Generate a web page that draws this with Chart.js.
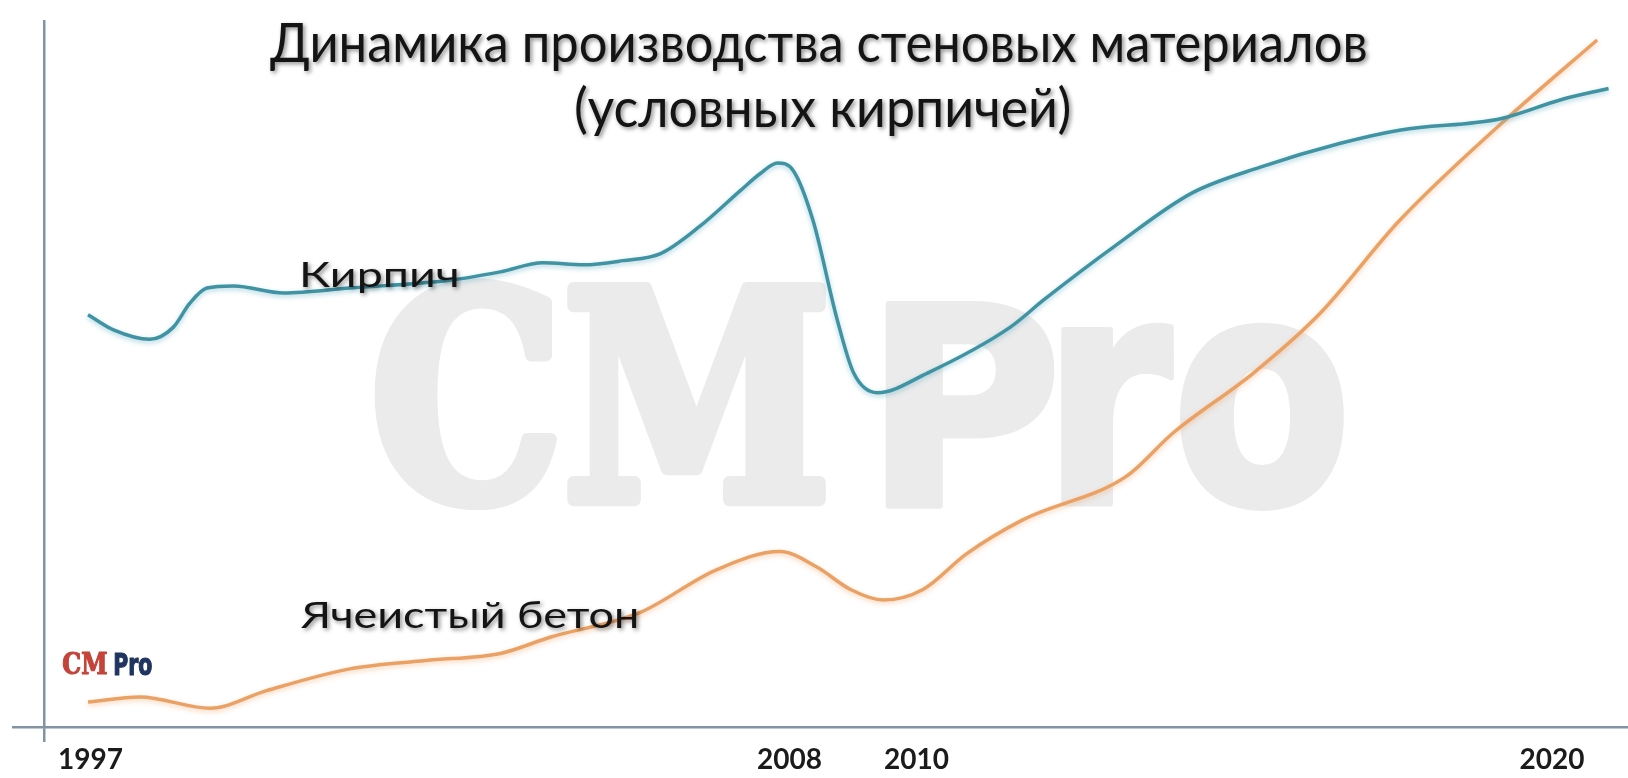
<!DOCTYPE html>
<html>
<head>
<meta charset="utf-8">
<script src="https://cdn.jsdelivr.net/npm/chart.js@4.4.0/dist/chart.umd.min.js"></script>
<style>
  html, body { margin: 0; padding: 0; background: #fff; }
  #wrap { width: 1628px; height: 778px; position: relative; }
</style>
</head>
<body>
<div id="wrap"><canvas id="chart"></canvas></div>
<script>
// Данные (условные единицы, 0 = ось X)
const brickYears = [1996.96, 1997.37, 1997.93, 1998.30, 1998.56, 1998.83, 1999.25, 2000.04, 2001.08, 2002.65,
    2003.45, 2004.12, 2004.76, 2005.38, 2005.97, 2006.59, 2007.23, 2007.54, 2007.81, 2008.06,
    2008.37, 2008.75, 2009.01, 2009.38, 2010.17, 2011.47, 2012.00, 2013.14, 2014.33, 2015.41,
    2016.67, 2017.62, 2019.19, 2020.14, 2020.89];
const brickValues = [58.2, 56.0, 54.7, 56.4, 59.8, 62.0, 62.3, 61.3, 62.0, 63.1,
    64.3, 65.6, 65.3, 65.9, 66.9, 70.8, 75.9, 78.3, 79.8, 78.7,
    71.6, 57.5, 49.9, 47.1, 49.9, 56.4, 60.3, 68.1, 75.5, 79.2,
    82.6, 84.5, 86.1, 88.8, 90.4];

const concreteYears = [1996.96, 1997.78, 1998.88, 1999.77, 2001.08, 2002.27, 2003.45, 2004.23, 2005.64, 2006.85,
    2007.85, 2008.43, 2008.96, 2009.48, 2010.10, 2010.79, 2011.67, 2013.30, 2014.04, 2015.30,
    2016.34, 2017.60, 2019.25, 2020.71];
const concreteValues = [3.1, 3.8, 2.2, 4.7, 7.8, 9.0, 10.0, 12.3, 15.8, 21.9,
    24.5, 22.3, 19.1, 17.6, 19.1, 24.2, 29.0, 35.2, 41.4, 49.9,
    58.3, 71.6, 85.8, 97.3];

const tickYears = [1997, 2008, 2010, 2020];
const titleLines = ['Динамика производства стеновых материалов', '(условных кирпичей)'];
const seriesNames = ['Кирпич', 'Ячеистый бетон'];

const axisColor = '#8293a3';
const brickColor = '#3f93a3';
const concreteColor = '#eba164';

// вписать текст по ширине (базовая линия задана)
function fitWidth(ctx, text, font, left, right, baseline) {
    ctx.font = font;
    const m = ctx.measureText(text);
    const sx = (right - left) / (m.actualBoundingBoxLeft + m.actualBoundingBoxRight);
    ctx.save();
    ctx.translate(left + m.actualBoundingBoxLeft * sx, baseline);
    ctx.scale(sx, 1);
    ctx.fillText(text, 0, 0);
    ctx.restore();
}

// вписать текст в прямоугольник (stroke - утолщение контура)
function fitBox(ctx, text, font, left, top, right, bottom, stroke) {
    ctx.font = font;
    const m = ctx.measureText(text);
    const sx = (right - left) / (m.actualBoundingBoxLeft + m.actualBoundingBoxRight);
    const sy = (bottom - top) / (m.actualBoundingBoxAscent + m.actualBoundingBoxDescent);
    ctx.save();
    ctx.translate(left + m.actualBoundingBoxLeft * sx, top + m.actualBoundingBoxAscent * sy);
    ctx.scale(sx, sy);
    ctx.fillText(text, 0, 0);
    if (stroke) {
        ctx.strokeStyle = ctx.fillStyle;
        ctx.lineJoin = 'round';
        ctx.lineWidth = stroke;
        ctx.strokeText(text, 0, 0);
    }
    ctx.restore();
}

const decorPlugin = {
    id: 'decor',
    beforeDatasetsDraw(chart) {
        const ctx = chart.ctx;
        ctx.save();
        ctx.textAlign = 'left';
        ctx.textBaseline = 'alphabetic';
        ctx.fillStyle = '#ebebeb';
        fitBox(ctx, 'CM', 'bold 200px "DejaVu Serif Condensed"', 380, 284, 820, 504, 9);
        fitBox(ctx, 'P', 'bold 200px "DejaVu Sans Condensed"', 888, 302, 1052, 506, 4);
        fitBox(ctx, 'ro', 'bold 200px "DejaVu Sans Condensed"', 1064, 326, 1341, 508, 4);
        ctx.restore();
    },
    beforeDatasetDraw(chart, args) {
        const ctx = chart.ctx;
        ctx.save();
        ctx.shadowColor = args.index === 0 ? 'rgba(70,160,180,0.45)' : 'rgba(235,160,100,0.45)';
        ctx.shadowBlur = 5;
        ctx.shadowOffsetY = 2;
    },
    afterDatasetDraw(chart) {
        chart.ctx.restore();
    },
    afterDatasetsDraw(chart) {
        const ctx = chart.ctx;
        ctx.save();
        ctx.textAlign = 'left';
        ctx.textBaseline = 'alphabetic';
        ctx.fillStyle = '#141414';
        ctx.shadowColor = 'rgba(0,0,0,0.45)';
        ctx.shadowBlur = 4;
        ctx.shadowOffsetX = 2;
        ctx.shadowOffsetY = 2;
        fitWidth(ctx, titleLines[0], '54px Lato', 270, 1366, 62);
        fitWidth(ctx, titleLines[1], '54px Lato', 576, 1069, 127);
        fitWidth(ctx, seriesNames[0], '35px Lato', 303, 457, 287);
        fitWidth(ctx, seriesNames[1], '37px Lato', 300, 637, 628);

        // маленький логотип
        ctx.shadowColor = 'rgba(0,0,0,0)';
        ctx.fillStyle = '#c4443a';
        fitBox(ctx, 'CM', 'bold 40px "DejaVu Serif Condensed"', 63, 652, 107, 675, 1.5);
        ctx.fillStyle = '#1f3560';
        fitBox(ctx, 'Pro', 'bold 40px "DejaVu Sans Condensed"', 115, 652, 152, 676, 1.5);
        ctx.restore();
    }
};

const ctx = document.getElementById('chart').getContext('2d');
new Chart(ctx, {
    type: 'line',
    data: {
        datasets: [{
            label: seriesNames[0],
            data: brickYears.map((x, i) => ({ x: x, y: brickValues[i] })),
            borderColor: brickColor,
            borderWidth: 3.5,
            pointRadius: 0,
            cubicInterpolationMode: 'monotone',
            fill: false
        }, {
            label: seriesNames[1],
            data: concreteYears.map((x, i) => ({ x: x, y: concreteValues[i] })),
            borderColor: concreteColor,
            borderWidth: 3.5,
            pointRadius: 0,
            cubicInterpolationMode: 'monotone',
            fill: false
        }]
    },
    options: {
        responsive: true,
        maintainAspectRatio: false,
        animation: false,
        layout: { padding: { top: 21, left: 0, right: 0, bottom: 0 } },
        plugins: {
            legend: { display: false },
            tooltip: { enabled: false },
            title: { display: false }
        },
        scales: {
            x: {
                type: 'linear',
                min: 1996.267,
                max: 2021.196,
                afterFit: s => { s.height = 51; },
                afterBuildTicks: s => { s.ticks = [s.min].concat(tickYears).map(v => ({ value: v })); },
                ticks: {
                    autoSkip: false,
                    maxRotation: 0,
                    padding: 1,
                    color: '#1b1b1b',
                    font: { family: 'Lato', size: 28, weight: 'bold' },
                    callback: v => (v < 1997 ? '' : String(v))
                },
                grid: {
                    drawOnChartArea: false,
                    tickLength: 15,
                    lineWidth: 2.5,
                    color: c => (c.index === 0 ? axisColor : 'rgba(0,0,0,0)')
                },
                border: { color: axisColor, width: 2.5 }
            },
            y: {
                min: -0.47,
                max: 100,
                afterFit: s => { s.width = 44; },
                afterBuildTicks: s => { s.ticks = [{ value: s.min }]; },
                ticks: { display: false },
                grid: {
                    drawOnChartArea: false,
                    tickLength: 32,
                    lineWidth: 2.5,
                    color: axisColor
                },
                border: { color: axisColor, width: 2.5 }
            }
        }
    },
    plugins: [decorPlugin]
});
</script>
</body>
</html>
